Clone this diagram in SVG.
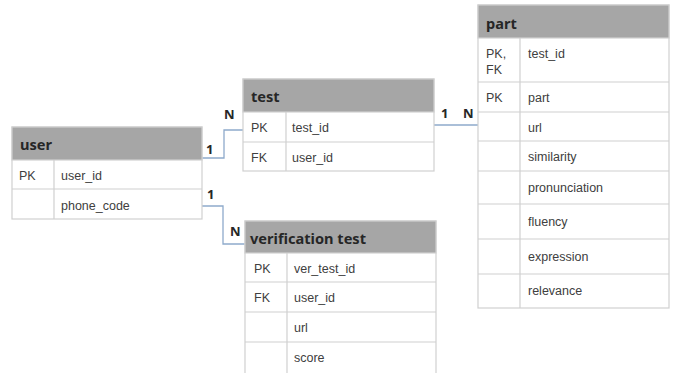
<svg xmlns="http://www.w3.org/2000/svg" width="677" height="373" viewBox="0 0 677 373">
<style>
.bg{fill:#ffffff}
.tbl{fill:#ffffff;stroke:#d0d0d0;stroke-width:1.2}
.hdr{fill:#a6a6a6;stroke:#d0d0d0;stroke-width:1.2}
.ln{stroke:#d0d0d0;stroke-width:1.2;fill:none}
.ht{font-family:"Noto Sans","DejaVu Sans",sans-serif;font-weight:bold;font-size:14.6px;fill:#262626}
.t{font-family:"Liberation Sans",Arial,sans-serif;font-size:12.5px;fill:#404040}
.card{font-family:"Noto Sans","DejaVu Sans",sans-serif;font-weight:bold;font-size:13px;fill:#262626}
.con{fill:none;stroke:#8eaacb;stroke-width:1.3}
</style>
<rect class="bg" x="0" y="0" width="677" height="373"/>

<g id="connectors">
  <path class="con" d="M202,158 H224 V130 H243"/>
  <path class="con" d="M202,206 H223 V244 H245"/>
  <path class="con" d="M434,125 H478"/>
  <text class="card" x="206" y="154">1</text>
  <text class="card" x="224" y="119">N</text>
  <text class="card" x="207" y="199">1</text>
  <text class="card" x="230" y="236">N</text>
  <text class="card" x="441" y="118">1</text>
  <text class="card" x="463" y="118">N</text>
</g>

<g id="user">
  <rect class="tbl" x="12" y="127" width="190" height="92"/>
  <rect class="hdr" x="12" y="127" width="190" height="33"/>
  <path class="ln" d="M12,189 H202 M54,160 V219"/>
  <text class="ht" x="20" y="150">user</text>
  <text class="t" x="19" y="180">PK</text>
  <text class="t" x="61" y="180">user_id</text>
  <text class="t" x="61" y="210">phone_code</text>
</g>

<g id="test">
  <rect class="tbl" x="243" y="79" width="191" height="92"/>
  <rect class="hdr" x="243" y="79" width="191" height="33"/>
  <path class="ln" d="M243,142 H434 M286,112 V171"/>
  <text class="ht" x="251" y="102">test</text>
  <text class="t" x="251" y="132">PK</text>
  <text class="t" x="292" y="132">test_id</text>
  <text class="t" x="251" y="162">FK</text>
  <text class="t" x="292" y="162">user_id</text>
</g>

<g id="verification-test">
  <rect class="tbl" x="245" y="221" width="191" height="160"/>
  <rect class="hdr" x="245" y="221" width="191" height="32"/>
  <path class="ln" d="M245,282 H436 M245,312 H436 M245,342 H436 M287,253 V381"/>
  <text class="ht" x="250" y="244">verification test</text>
  <text class="t" x="254" y="273">PK</text>
  <text class="t" x="294" y="273">ver_test_id</text>
  <text class="t" x="254" y="302">FK</text>
  <text class="t" x="294" y="302">user_id</text>
  <text class="t" x="294" y="332">url</text>
  <text class="t" x="294" y="362">score</text>
</g>

<g id="part">
  <rect class="tbl" x="478" y="5" width="191" height="303"/>
  <rect class="hdr" x="478" y="5" width="191" height="33"/>
  <path class="ln" d="M478,82 H669 M478,112 H669 M478,141 H669 M478,171 H669 M478,204 H669 M478,239 H669 M478,274 H669 M520,38 V308"/>
  <text class="ht" x="486" y="29">part</text>
  <text class="t" x="486" y="58">PK,</text>
  <text class="t" x="486" y="74">FK</text>
  <text class="t" x="528" y="58">test_id</text>
  <text class="t" x="486" y="102">PK</text>
  <text class="t" x="528" y="102">part</text>
  <text class="t" x="528" y="132">url</text>
  <text class="t" x="528" y="161">similarity</text>
  <text class="t" x="528" y="192">pronunciation</text>
  <text class="t" x="528" y="226">fluency</text>
  <text class="t" x="528" y="261">expression</text>
  <text class="t" x="528" y="295">relevance</text>
</g>
</svg>
